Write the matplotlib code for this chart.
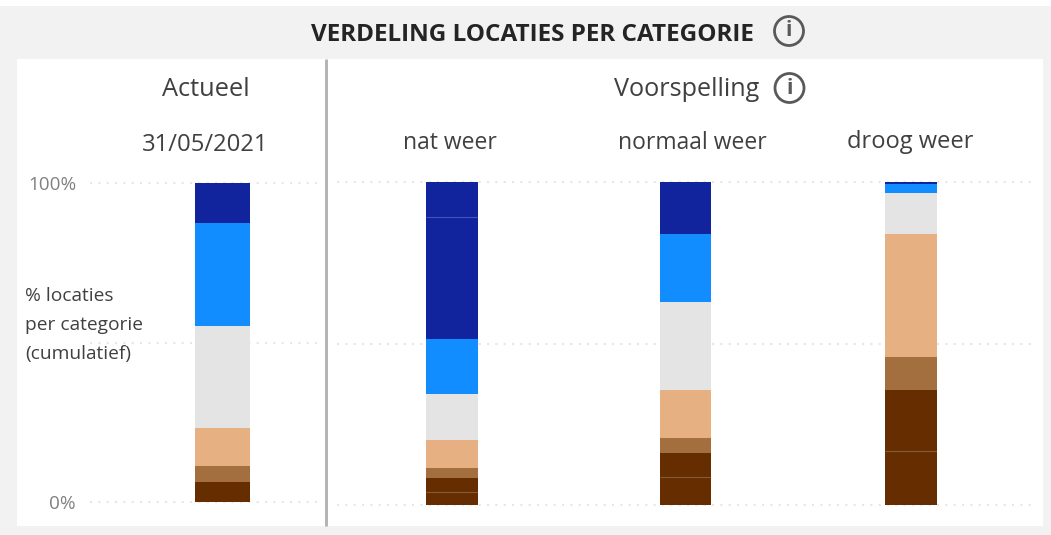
"""Verdeling locaties per categorie - gestapelde staven"""
import matplotlib.pyplot as plt
from matplotlib.patches import Circle, Rectangle
import numpy as np

plt.rcParams["font.family"] = ["Open Sans", "DejaVu Sans"]

W, H = 1051, 535

# kolommen: actueel, nat weer, normaal weer, droog weer (onder naar boven)
donker_1 = [6.4, 3.9, 8.6, 16.8]
donker_2 = [0.0, 4.4, 7.5, 18.7]
bruin = [5.0, 3.2, 4.5, 10.3]
licht_bruin = [11.7, 8.6, 15.0, 38.0]
grijs = [32.2, 14.2, 27.3, 12.8]
blauw = [32.3, 17.1, 21.0, 2.7]
navy_1 = [12.4, 37.8, 16.1, 0.7]
navy_2 = [0.0, 10.8, 0.0, 0.0]

series = [donker_1, donker_2, bruin, licht_bruin, grijs, blauw, navy_1, navy_2]
colors = ["#662E00", "#662E00", "#A46F3E", "#E6B083", "#E4E4E4", "#118DFF", "#12239E", "#12239E"]

kolommen = ["31/05/2021", "nat weer", "normaal weer", "droog weer"]
kol_x = [222.5, 452, 685.5, 911]
tick_waarden = [0, 50, 100]
tick_labels = ["0%", "", "100%"]

TEXT = "#404040"


def axes_px(fig, x0, x1, y_top, y_bottom):
    return fig.add_axes([x0 / W, 1 - y_bottom / H, (x1 - x0) / W, (y_bottom - y_top) / H])


def draw_stack(ax, xpos, idx, width):
    bottom = np.zeros(len(idx))
    for i, s in enumerate(series):
        vals = np.array(s)[idx]
        ax.bar(xpos, vals, width, bottom=bottom, color=colors[i], linewidth=0, zorder=3)
        # dunne lijn tussen twee vlakken van dezelfde kleur
        if i > 0 and colors[i] == colors[i - 1]:
            for x, v, b in zip(xpos, vals, bottom):
                if v > 0:
                    ax.hlines(b, x - width / 2, x + width / 2, color="white", alpha=0.22, lw=0.8, zorder=4)
        bottom = bottom + vals


def style_axes(ax):
    ax.set_ylim(0, 100)
    ax.patch.set_alpha(0)
    for s in ax.spines.values():
        s.set_visible(False)
    ax.set_xticks([])
    ax.set_yticks(tick_waarden)
    ax.tick_params(axis="y", length=0, pad=10, labelsize=13.6, labelcolor="#808080")
    ax.grid(axis="y", color="#e6e6e6", linestyle=(0, (1, 3)), lw=1.5, zorder=0)
    for line in ax.get_ygridlines():
        line.set_clip_on(False)


fig = plt.figure(figsize=(W / 100, H / 100), dpi=100, facecolor="white")

# achtergrond en teksten in pixelcoordinaten
bg = fig.add_axes([0, 0, 1, 1])
bg.set_xlim(0, W)
bg.set_ylim(H, 0)
bg.axis("off")
bg.add_patch(Rectangle((0, 6), W, H - 6, color="#F2F2F2", lw=0))
bg.add_patch(Rectangle((17, 59), 1026, 467, color="white", lw=0))
bg.plot([326, 326], [59, 526], color="#B3B3B3", lw=2.1, solid_capstyle="butt")

bg.text(532.5, 35, "VERDELING LOCATIES PER CATEGORIE", ha="center", va="center",
        fontsize=17.5, fontweight="bold", color="#252423")
bg.text(206, 90, "Actueel", ha="center", va="center", fontsize=18.3, color=TEXT)
bg.text(686.5, 89, "Voorspelling", ha="center", va="center", fontsize=18.2, color=TEXT)
bg.text(205, 145, kolommen[0], ha="center", va="center", fontsize=17.1, color=TEXT)
bg.text(450, 143, kolommen[1], ha="center", va="center", fontsize=16.5, color=TEXT)
bg.text(692, 143, kolommen[2], ha="center", va="center", fontsize=16.5, color=TEXT)
bg.text(910, 142, kolommen[3], ha="center", va="center", fontsize=17, color=TEXT)
for y, regel in zip([296, 325, 354], ["% locaties", "per categorie", "(cumulatief)"]):
    bg.text(25, y, regel, ha="left", va="center", fontsize=13.8, color=TEXT)

# info iconen
for cx, cy in [(789, 31), (789.5, 88)]:
    bg.add_patch(Circle((cx, cy), 14.5, facecolor="none", edgecolor="#595959", lw=2))
    bg.text(cx, cy, "i", ha="center", va="center", fontsize=15, fontweight="bold", color="#595959")

# actueel
ax1 = axes_px(fig, 90, 317, 183, 502)
unit1 = 55 / 0.6
ax1.set_xlim((90 - kol_x[0]) / unit1, (317 - kol_x[0]) / unit1)
draw_stack(ax1, np.array([0.0]), [0], 0.6)
style_axes(ax1)
ax1.set_yticklabels(tick_labels)

# voorspelling
ax2 = axes_px(fig, 337, 1035, 182, 505)
unit2 = kol_x[2] - kol_x[1]
ax2.set_xlim((337 - kol_x[1]) / unit2, (1035 - kol_x[1]) / unit2)
pos2 = (np.array(kol_x[1:]) - kol_x[1]) / unit2
draw_stack(ax2, pos2, [1, 2, 3], 51.7 / unit2)
style_axes(ax2)
ax2.set_yticklabels([])

fig.savefig("out.png", dpi=100, facecolor="white")
